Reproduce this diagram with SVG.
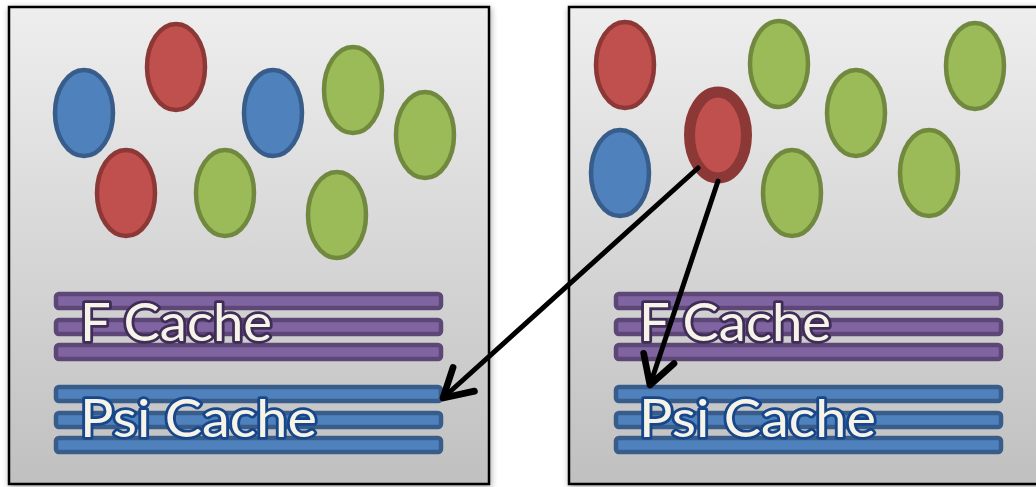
<svg xmlns="http://www.w3.org/2000/svg" width="1036" height="487" viewBox="0 0 1036 487">
<defs>
<linearGradient id="bg" x1="0" y1="0" x2="0" y2="1">
<stop offset="0" stop-color="#eeeeee"/>
<stop offset="1" stop-color="#c0c0c0"/>
</linearGradient>
<filter id="sh" x="-5%" y="-5%" width="110%" height="110%">
<feGaussianBlur in="SourceAlpha" stdDeviation="3"/>
<feOffset dx="1" dy="2" result="b"/>
<feComponentTransfer><feFuncA type="linear" slope="0.35"/></feComponentTransfer>
<feMerge><feMergeNode/><feMergeNode in="SourceGraphic"/></feMerge>
</filter>
<marker id="ah" markerUnits="userSpaceOnUse" markerWidth="40" markerHeight="40" viewBox="-24 -15 28 30" refX="0" refY="0" orient="auto">
<path d="M-21,-12 L0,0 L-21,12" fill="none" stroke="#000" stroke-width="5" stroke-linecap="round" stroke-linejoin="round"/>
</marker>
</defs>
<style>
.panel{fill:url(#bg);stroke:#000;stroke-width:2.5}
.red{fill:#c0504d;stroke:#8c3836;stroke-width:4.5}
.blue{fill:#4f81bd;stroke:#385d8a;stroke-width:4.5}
.green{fill:#9bbb59;stroke:#71893f;stroke-width:4.5}
.sel{fill:#c0504d;stroke:#8c3836;stroke-width:11}
.pbar{fill:#8064a2;stroke:#5c4776;stroke-width:4.5}
.bbar{fill:#4f81bd;stroke:#385d8a;stroke-width:4.5}
.lbl{font-family:Lato,"Open Sans","Liberation Sans",sans-serif;font-size:53px;fill:#f6f3e8;stroke-width:5.5;paint-order:stroke;stroke-linejoin:round}
.lf{stroke:#3f2d57}
.lp{stroke:#17478a}
.conn{fill:none;stroke:#000;stroke-width:5;stroke-linecap:round}
</style>
<g id="panel-left">
<rect class="panel" x="9" y="7" width="480" height="477" filter="url(#sh)"/>
<ellipse class="blue" cx="84" cy="113" rx="29" ry="43"/>
<ellipse class="red" cx="176" cy="67" rx="29" ry="43"/>
<ellipse class="red" cx="126" cy="193" rx="29" ry="43"/>
<ellipse class="green" cx="225" cy="193" rx="29" ry="43"/>
<ellipse class="blue" cx="273" cy="113" rx="29" ry="43"/>
<ellipse class="green" cx="353" cy="90" rx="29" ry="43"/>
<ellipse class="green" cx="425" cy="135" rx="29" ry="43"/>
<ellipse class="green" cx="337" cy="215" rx="29" ry="43"/>
<g id="fcache-left">
<rect class="pbar" x="56" y="294" width="385" height="14" rx="3"/>
<rect class="pbar" x="56" y="320" width="385" height="14" rx="3"/>
<rect class="pbar" x="56" y="345" width="385" height="14" rx="3"/>
<text class="lbl lf" x="80" y="341" textLength="192" lengthAdjust="spacingAndGlyphs">F Cache</text>
</g>
<g id="psicache-left">
<rect class="bbar" x="56" y="387" width="385" height="14" rx="3"/>
<rect class="bbar" x="56" y="413" width="385" height="14" rx="3"/>
<rect class="bbar" x="56" y="438" width="385" height="14" rx="3"/>
<text class="lbl lp" x="80" y="437" textLength="237" lengthAdjust="spacingAndGlyphs">Psi Cache</text>
</g>
</g>
<g id="panel-right">
<rect class="panel" x="569" y="7" width="480" height="477" filter="url(#sh)"/>
<ellipse class="red" cx="625" cy="65" rx="29" ry="43"/>
<ellipse class="blue" cx="620" cy="173" rx="29" ry="43"/>
<ellipse class="green" cx="779" cy="64" rx="29" ry="43"/>
<ellipse class="green" cx="792" cy="193" rx="29" ry="43"/>
<ellipse class="green" cx="856" cy="113" rx="29" ry="43"/>
<ellipse class="green" cx="975" cy="66" rx="29" ry="43"/>
<ellipse class="green" cx="929" cy="173" rx="29" ry="43"/>
<g id="fcache-right">
<rect class="pbar" x="616" y="294" width="385" height="14" rx="3"/>
<rect class="pbar" x="616" y="320" width="385" height="14" rx="3"/>
<rect class="pbar" x="616" y="345" width="385" height="14" rx="3"/>
<text class="lbl lf" x="639" y="341" textLength="192" lengthAdjust="spacingAndGlyphs">F Cache</text>
</g>
<g id="psicache-right">
<rect class="bbar" x="616" y="387" width="385" height="14" rx="3"/>
<rect class="bbar" x="616" y="413" width="385" height="14" rx="3"/>
<rect class="bbar" x="616" y="438" width="385" height="14" rx="3"/>
<text class="lbl lp" x="639" y="437" textLength="237" lengthAdjust="spacingAndGlyphs">Psi Cache</text>
</g>
</g>
<g id="selected-node">
<ellipse class="sel" cx="718" cy="135" rx="28.5" ry="43"/>
</g>
<g id="connectors">
<line class="conn" x1="698" y1="168" x2="443" y2="398" marker-end="url(#ah)"/>
<line class="conn" x1="718" y1="181" x2="650" y2="385" marker-end="url(#ah)"/>
</g>
</svg>
